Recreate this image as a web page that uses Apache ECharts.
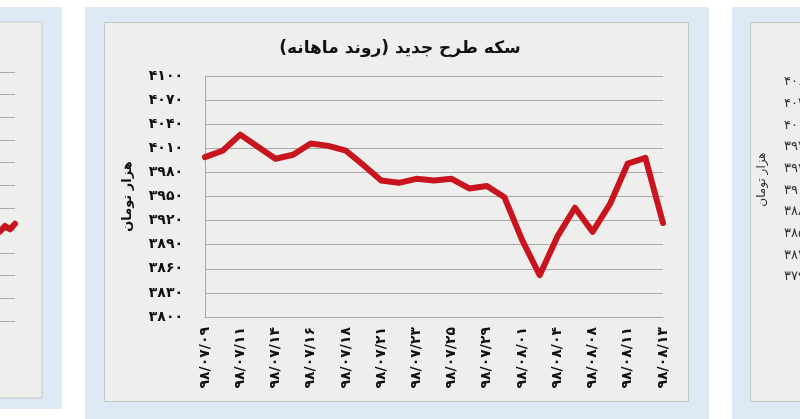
<!DOCTYPE html>
<html>
<head>
<meta charset="utf-8">
<script src="https://cdn.jsdelivr.net/npm/echarts@6/dist/echarts.min.js"></script>
<style>
html,body{margin:0;padding:0;background:#ffffff;}
#chart{width:800px;height:419px;}
</style>
</head>
<body>
<div id="chart"></div>
<script>
// ---- data ----
const titleText = 'سکه طرح جدید (روند ماهانه)';
const yAxisName = 'هزار تومان';
const categories = ['۹۸/۰۷/۰۹','۹۸/۰۷/۱۰','۹۸/۰۷/۱۱','۹۸/۰۷/۱۳','۹۸/۰۷/۱۴','۹۸/۰۷/۱۵','۹۸/۰۷/۱۶','۹۸/۰۷/۱۷','۹۸/۰۷/۱۸','۹۸/۰۷/۲۰','۹۸/۰۷/۲۱','۹۸/۰۷/۲۲','۹۸/۰۷/۲۳','۹۸/۰۷/۲۴','۹۸/۰۷/۲۵','۹۸/۰۷/۲۸','۹۸/۰۷/۲۹','۹۸/۰۷/۳۰','۹۸/۰۸/۰۱','۹۸/۰۸/۰۲','۹۸/۰۸/۰۴','۹۸/۰۸/۰۵','۹۸/۰۸/۰۸','۹۸/۰۸/۰۹','۹۸/۰۸/۱۱','۹۸/۰۸/۱۲','۹۸/۰۸/۱۳'];
const coinValues = [3999,4007,4027,4012,3997,4002,4016,4013,4007,3989,3970,3967,3972,3970,3972,3960,3963,3949,3896,3852,3900,3936,3906,3941,3991,3998,3917];
const yMin = 3800, yMax = 4100, yStep = 30;

// neighbouring (cropped) panels
const leftCategories = ['a','b','c','d'];
const leftValues = [3779,3784,3781,3786];
const leftMin = 3700, leftMax = 3920, leftStep = 20;
const rightCategories = ['a','b'];
const rightMin = 3790, rightMax = 4060, rightStep = 30;

// ---- helpers ----
const faDigits = '۰۱۲۳۴۵۶۷۸۹';
const toFa = v => String(v).replace(/\d/g, d => faDigits[d]);
const RLM = '\u200F';
const FONT = 'DejaVu Sans';
const GRID_COLOR = '#a9a9a9';
const BLUE = '#dde9f5';
const PAPER = '#eeeeec';

const chart = echarts.init(document.getElementById('chart'), null, {renderer:'canvas'});
chart.setOption({
  backgroundColor: '#ffffff',
  animation: false,
  title: {
    text: RLM + titleText + RLM,
    left: 'center',
    top: 35,
    textStyle: {fontFamily: FONT, fontSize: 17, fontWeight: 'bold', color: '#111'}
  },
  graphic: [
    {type:'rect', z:-10, shape:{x:0,y:7,width:62,height:402}, style:{fill:BLUE}},
    {type:'rect', z:-9, shape:{x:-5,y:22,width:47,height:376}, style:{fill:PAPER, stroke:'#c6c6c6', lineWidth:1}},
    {type:'rect', z:-10, shape:{x:85,y:7,width:624,height:420}, style:{fill:BLUE}},
    {type:'rect', z:-9, shape:{x:104.5,y:22.5,width:584,height:379}, style:{fill:PAPER, stroke:'#c6c6c6', lineWidth:1}},
    {type:'rect', z:-10, shape:{x:732,y:7,width:80,height:420}, style:{fill:BLUE}},
    {type:'rect', z:-9, shape:{x:750.5,y:22.5,width:80,height:379}, style:{fill:PAPER, stroke:'#c6c6c6', lineWidth:1}}
  ],
  grid: [
    {left:205, right:137, top:76, bottom:102, containLabel:false},
    {left:0, right:785, top:72, bottom:98, containLabel:false},
    {left:820, width:100, top:82, bottom:142, containLabel:false}
  ],
  xAxis: [
    {
      gridIndex:0, type:'category', data:categories, boundaryGap:false,
      axisLine:{show:true, lineStyle:{color:GRID_COLOR, width:1}},
      axisTick:{show:false},
      axisLabel:{rotate:90, interval:1, margin:10, fontFamily:FONT, fontSize:14, fontWeight:'bold', color:'#111'},
      splitLine:{show:false}
    },
    {
      gridIndex:1, type:'category', data:leftCategories, boundaryGap:false,
      axisLine:{show:false}, axisTick:{show:false}, axisLabel:{show:false}, splitLine:{show:false}
    },
    {
      gridIndex:2, type:'category', data:rightCategories, boundaryGap:false,
      axisLine:{show:false}, axisTick:{show:false}, axisLabel:{show:false}, splitLine:{show:false}
    }
  ],
  yAxis: [
    {
      gridIndex:0, type:'value', min:yMin, max:yMax, interval:yStep,
      name: yAxisName, nameLocation:'middle', nameGap:71, nameRotate:90,
      nameTextStyle:{fontFamily:FONT, fontSize:13, fontWeight:'bold', color:'#111'},
      axisLine:{show:true, lineStyle:{color:GRID_COLOR, width:1}},
      axisTick:{show:false},
      axisLabel:{margin:22, formatter:v => toFa(v), fontFamily:FONT, fontSize:14, fontWeight:'bold', color:'#111'},
      splitLine:{show:true, lineStyle:{color:GRID_COLOR, width:1}}
    },
    {
      gridIndex:1, type:'value', min:leftMin, max:leftMax, interval:leftStep,
      axisLine:{show:false}, axisTick:{show:false}, axisLabel:{show:false},
      splitLine:{show:true, lineStyle:{color:GRID_COLOR, width:1}}
    },
    {
      gridIndex:2, type:'value', min:rightMin, max:rightMax, interval:rightStep,
      name: yAxisName, nameLocation:'middle', nameGap:52, nameRotate:90,
      nameTextStyle:{fontFamily:FONT, fontSize:12, color:'#333'},
      axisLine:{show:false}, axisTick:{show:false},
      axisLabel:{margin:8, formatter:v => toFa(v), fontFamily:FONT, fontSize:13, color:'#333'},
      splitLine:{show:false}
    }
  ],
  series: [
    {
      type:'line', xAxisIndex:0, yAxisIndex:0, data:coinValues,
      symbol:'none', smooth:false,
      lineStyle:{color:'#c8141f', width:6, join:'round', cap:'round'}
    },
    {
      type:'line', xAxisIndex:1, yAxisIndex:1, data:leftValues,
      symbol:'none', smooth:false,
      lineStyle:{color:'#c8141f', width:6, join:'round', cap:'round'}
    }
  ]
});
</script>
</body>
</html>
